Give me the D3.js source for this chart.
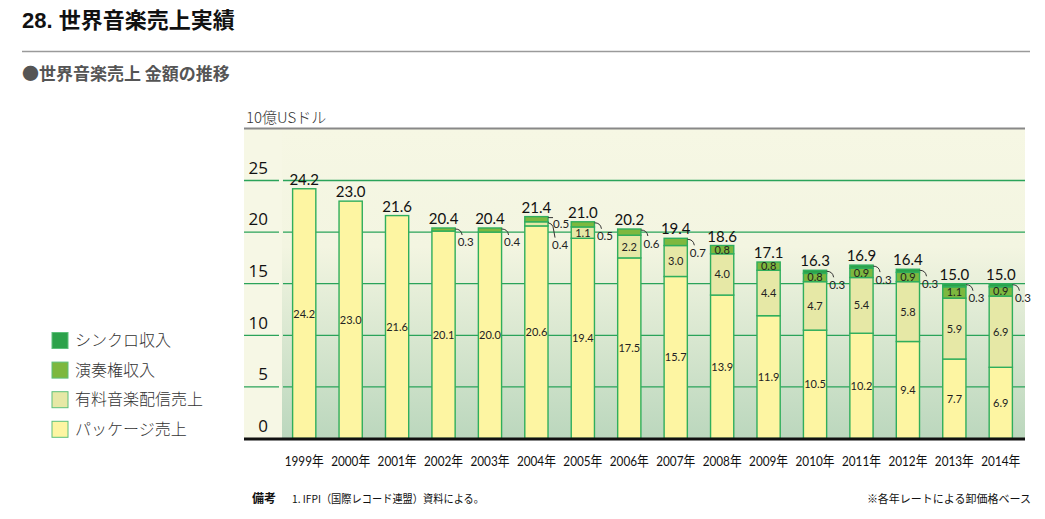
<!DOCTYPE html>
<html><head><meta charset="utf-8">
<script src="https://cdnjs.cloudflare.com/ajax/libs/d3/7.8.5/d3.min.js"></script>
<style>
html,body{margin:0;padding:0;background:#fff;}
svg{display:block;}
text{font-family:Lato,"Noto Sans CJK JP",sans-serif;}
</style></head>
<body>
<svg id="c" width="1045" height="519"></svg>
<script>
const years = ['1999','2000','2001','2002','2003','2004','2005','2006','2007','2008','2009','2010','2011','2012','2013','2014'];
const packageSales      = [24.2,23.0,21.6,20.1,20.0,20.6,19.4,17.5,15.7,13.9,11.9,10.5,10.2,9.4,7.7,6.9];
const digitalSales      = [0,0,0,0,0,0.4,1.1,2.2,3.0,4.0,4.4,4.7,5.4,5.8,5.9,6.9];
const performanceRights = [0,0,0,0.3,0.4,0.5,0.5,0.6,0.7,0.8,0.8,0.8,0.9,0.9,1.1,0.9];
const syncRevenue       = [0,0,0,0,0,0,0,0,0,0,0,0.3,0.3,0.3,0.3,0.3];
const totals            = [24.2,23.0,21.6,20.4,20.4,21.4,21.0,20.2,19.4,18.6,17.1,16.3,16.9,16.4,15.0,15.0];
const yTicks = [0,5,10,15,20,25];
const seriesKeys   = ['package','digital','performance','sync'];
const seriesNames  = ['パッケージ売上','有料音楽配信売上','演奏権収入','シンクロ収入'];
const seriesColors = ['#fdf5a2','#e6e8a6','#7db83f','#2ca24a'];

const svg = d3.select('#c');
const rows = years.map((y,i)=>({year:y, package:packageSales[i], digital:digitalSales[i], performance:performanceRights[i], sync:syncRevenue[i], total:totals[i]}));

const x = d3.scaleBand().domain(years).range([281,1024]).paddingInner(0.5).paddingOuter(0.25);
const y = d3.scaleLinear().domain([0,25]).range([438.5,180.5]);
const color = d3.scaleOrdinal().domain(seriesKeys).range(seriesColors);

// Title
svg.append('text').attr('x',22).attr('y',28).attr('font-size',22).attr('font-weight','bold').attr('fill','#111')
  .style('font-family','"Liberation Sans","Noto Sans CJK JP",sans-serif').text('28. 世界音楽売上実績');
svg.append('line').attr('x1',22).attr('x2',1030).attr('y1',51.5).attr('y2',51.5).attr('stroke','#9a9a9a').attr('stroke-width',1.5);
svg.append('text').attr('x',22).attr('y',80).attr('font-size',17).attr('font-weight','bold').attr('fill','#555')
  .style('font-family','"Noto Sans CJK JP",sans-serif').text('●世界音楽売上 金額の推移');

// unit
svg.append('text').attr('x',246).attr('y',123).attr('font-size',15).attr('fill','#333')
  .style('font-family','"Noto Sans CJK JP",sans-serif').attr('font-weight',300).text('10億USドル');

// backgrounds
const defs = svg.append('defs');
const grad = defs.append('linearGradient').attr('id','bg').attr('x1',0).attr('x2',0).attr('y1',0).attr('y2',1);
grad.append('stop').attr('offset','0%').attr('stop-color','#f6f7e4');
grad.append('stop').attr('offset','38%').attr('stop-color','#f3f5e1');
grad.append('stop').attr('offset','100%').attr('stop-color','#bbd7bd');
svg.append('rect').attr('x',244).attr('y',129).attr('width',781).attr('height',y(0)-129).attr('fill','#f6f7e5');
svg.append('rect').attr('x',282).attr('y',129).attr('width',743).attr('height',y(0)-129).attr('fill','url(#bg)');
svg.append('line').attr('x1',244).attr('x2',1025).attr('y1',128.5).attr('y2',128.5).attr('stroke','#888').attr('stroke-width',2);

// gridlines
const gl = svg.append('g');
yTicks.filter(t=>t>0).forEach(t=>{
  gl.append('line').attr('x1',244).attr('x2',279).attr('y1',y(t)).attr('y2',y(t)).attr('stroke','#2aa35a').attr('stroke-width',1.3);
  gl.append('line').attr('x1',283).attr('x2',1025).attr('y1',y(t)).attr('y2',y(t)).attr('stroke','#2aa35a').attr('stroke-width',1.3);
});

// y axis labels
const yAxis = svg.append('g').attr('transform','translate(268,0)')
  .call(d3.axisLeft(y).tickValues(yTicks).tickSize(0).tickPadding(0).tickFormat(d3.format('d')));
yAxis.select('.domain').remove();
yAxis.selectAll('text').attr('font-size',17).attr('fill','#111').attr('dy','-0.42em').style('font-family','"Open Sans",sans-serif');

// stacked bars
const stacked = d3.stack().keys(seriesKeys)(rows);
const bw = x.bandwidth();
const segs = svg.append('g');
stacked.forEach(s=>{
  segs.selectAll(null).data(s.filter(d=>d[1]-d[0]>0)).enter().append('rect')
    .attr('x',d=>x(d.data.year)).attr('width',bw)
    .attr('y',d=>y(d[1])).attr('height',d=>y(d[0])-y(d[1]))
    .attr('fill',color(s.key)).attr('stroke','#2fae5c').attr('stroke-width',1.4);
});

// baseline
svg.append('line').attr('x1',244).attr('x2',1025).attr('y1',y(0)+0.5).attr('y2',y(0)+0.5).attr('stroke','#111').attr('stroke-width',3);

// inside labels
const lab = svg.append('g').attr('font-size',11).attr('fill','#222').attr('text-anchor','middle');
stacked.forEach(s=>{
  s.forEach(d=>{
    const v = d[1]-d[0];
    const inside = s.key==='package' || (s.key==='digital' && v>=1) || (s.key==='performance' && v>=0.8);
    if(v>0 && inside){
      lab.append('text').attr('x',x(d.data.year)+bw/2).attr('y',(y(d[0])+y(d[1]))/2).attr('dy','0.36em').text(d3.format('.1f')(v));
    }
  });
});

// callouts
const co = svg.append('g');
rows.forEach((r,i)=>{
  const items = [];
  const keysTopDown = ['sync','performance','digital'];
  keysTopDown.forEach(k=>{
    const v = r[k];
    const inside = (k==='digital' && v>=1) || (k==='performance' && v>=0.8);
    if(v>0 && !inside) items.push(v);
  });
  const right = x(r.year)+bw;
  const top = y(stacked[3][i][1]);
  items.forEach((v,j)=>{
    if(items.length===1){
      co.append('path').attr('d',`M${right},${top+1} Q${right+6},${top+1} ${right+7},${top+7}`)
        .attr('fill','none').attr('stroke','#333').attr('stroke-width',1);
      co.append('text').attr('x',right+2.5).attr('y',top+18.5).attr('font-size',11.5).attr('fill','#222').text(d3.format('.1f')(v));
    } else if(j===0){
      co.append('path').attr('d',`M${right},${top+1} L${right+5},${top+1}`).attr('fill','none').attr('stroke','#333').attr('stroke-width',1);
      co.append('text').attr('x',right+5).attr('y',top+11).attr('font-size',11.5).attr('fill','#222').text(d3.format('.1f')(v));
    } else {
      co.append('path').attr('d',`M${right},${top+6} Q${right+4},${top+7} ${right+5},${top+10} L${right+7},${top+21}`)
        .attr('fill','none').attr('stroke','#333').attr('stroke-width',1);
      co.append('text').attr('x',right+4).attr('y',top+32).attr('font-size',11.5).attr('fill','#222').text(d3.format('.1f')(v));
    }
  });
});

// totals
svg.append('g').selectAll('text').data(rows).enter().append('text')
  .attr('x',d=>x(d.year)+bw/2).attr('y',(d,i)=>y(stacked[3][i][1])-4)
  .attr('text-anchor','middle').attr('font-size',15).attr('fill','#111').text(d=>d3.format('.1f')(d.total));

// x axis
const xAxis = svg.append('g').attr('transform',`translate(0,${y(0)})`)
  .call(d3.axisBottom(x).tickSize(0).tickPadding(0).tickFormat(d=>d+'年'));
xAxis.select('.domain').remove();
xAxis.selectAll('text').attr('font-size',14).attr('fill','#111').attr('dy',null).attr('y',27)
  .attr('textLength',39).attr('lengthAdjust','spacingAndGlyphs');

// legend
const legendOrder = [3,2,1,0];
const lg = svg.append('g');
legendOrder.forEach((si,j)=>{
  const cy = 340.5 + j*29.6;
  lg.append('rect').attr('x',52).attr('y',cy-8).attr('width',16).attr('height',16)
    .attr('fill',seriesColors[si]).attr('stroke','#5cc07a').attr('stroke-width',1);
  lg.append('text').attr('x',75).attr('y',cy).attr('dy','0.36em').attr('font-size',16).attr('fill','#333')
    .style('font-family','"Noto Sans CJK JP",sans-serif').attr('font-weight',300).text(seriesNames[si]);
});

// footer
svg.append('text').attr('x',252).attr('y',503).attr('font-size',12).attr('font-weight','bold').attr('fill','#111')
  .style('font-family','"Noto Sans CJK JP",sans-serif').text('備考');
svg.append('text').attr('x',292).attr('y',503).attr('font-size',11).attr('fill','#111')
  .style('font-family','"Noto Sans CJK JP",sans-serif').attr('textLength',192).attr('lengthAdjust','spacingAndGlyphs')
  .text('1. IFPI（国際レコード連盟）資料による。');
svg.append('text').attr('x',1031).attr('y',503).attr('font-size',11).attr('fill','#111').attr('text-anchor','end')
  .style('font-family','"Noto Sans CJK JP",sans-serif').text('※各年レートによる卸価格ベース');
</script>
</body></html>
